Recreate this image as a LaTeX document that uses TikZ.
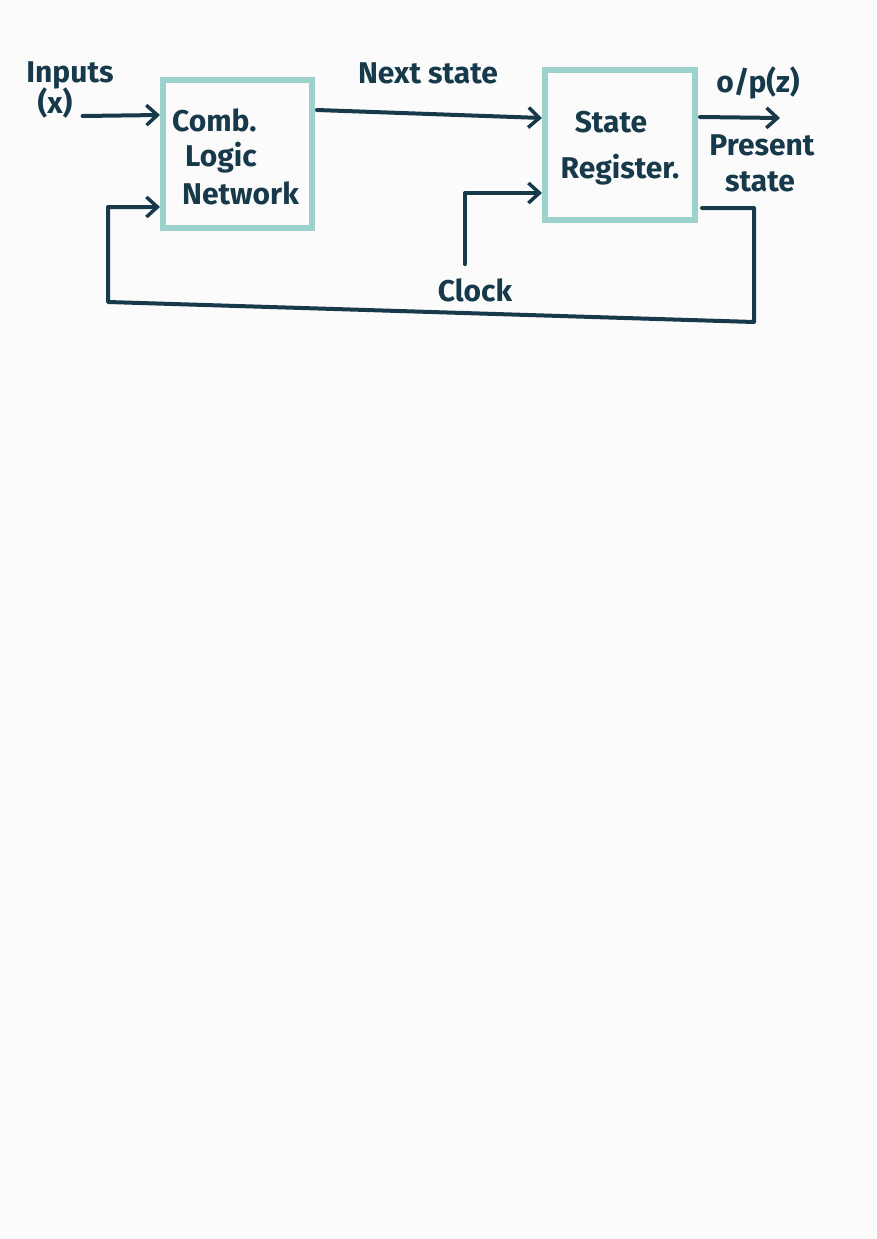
\documentclass[tikz,border=0pt]{standalone}
\usepackage{fontspec}
\setmainfont{Fira Sans}
\usetikzlibrary{positioning,arrows.meta}
\definecolor{ink}{HTML}{173A4A}
\definecolor{boxteal}{HTML}{9DD1CC}
\definecolor{paper}{HTML}{FBFBFB}
\tikzset{
  block/.style={draw=boxteal, line width=6pt, inner sep=0pt},
  lbl/.style={text=ink, font=\fontsize{30}{32}\selectfont\bfseries, inner sep=0pt},
  wire/.style={draw=ink, line width=4pt, line cap=round, line join=round}
}

\begin{document}
\begin{tikzpicture}[x=1pt,y=-1pt,>={Straight Barb[length=11pt,width=20pt,line width=3.5pt]}]
  \useasboundingbox[fill=paper] (0,0) rectangle (876,1239);
  \node[block, minimum width=149pt, minimum height=148pt] (comb) at (237.5,154) {};
  \node[block, minimum width=150pt, minimum height=150pt] (reg) at (620,145) {};
  \node[lbl, anchor=west] (comb1) at (172,120) {Comb.};
  \node[lbl, anchor=west] (comb2) at (185,158) {Logic};
  \node[lbl, anchor=west] (comb3) at (182,193) {Network};
  \node[lbl] (reg1) at (611,122) {State};
  \node[lbl] (reg2) at (620,170) {Register.};
  \node[lbl] (inp) at (70,75) {Inputs};
  \node[lbl] (xin) at (55,103) {(x)};
  \node[lbl] (nxt) at (428,73) {Next state};
  \node[lbl] (op) at (758,83) {o/p(z)};
  \node[lbl] (pres1) at (762,145) {Present};
  \node[lbl] (pres2) at (760,182) {state};
  \node[lbl] (clk) at (475,290) {Clock};
  \coordinate (out) at (780,118);
  \coordinate (fbr) at (754,322);
  \coordinate (fbl) at (108,302);
  \draw[wire,->] ([xshift=10pt,yshift=-13pt]xin.east) -- ([yshift=39pt]comb.west);
  \draw[wire,->] ([xshift=2pt,yshift=44pt]comb.east) -- ([yshift=27pt]reg.west);
  \draw[wire,->] ([xshift=2pt,yshift=28pt]reg.east) -- (out);
  \draw[wire,->] ([xshift=-10pt,yshift=14pt]clk.north) |- ([yshift=-48pt]reg.west);
  \draw[wire,->] ([xshift=4pt,yshift=-63pt]reg.east) -| (fbr) -- (fbl) |- ([yshift=-53pt]comb.west);
\end{tikzpicture}
\end{document}
